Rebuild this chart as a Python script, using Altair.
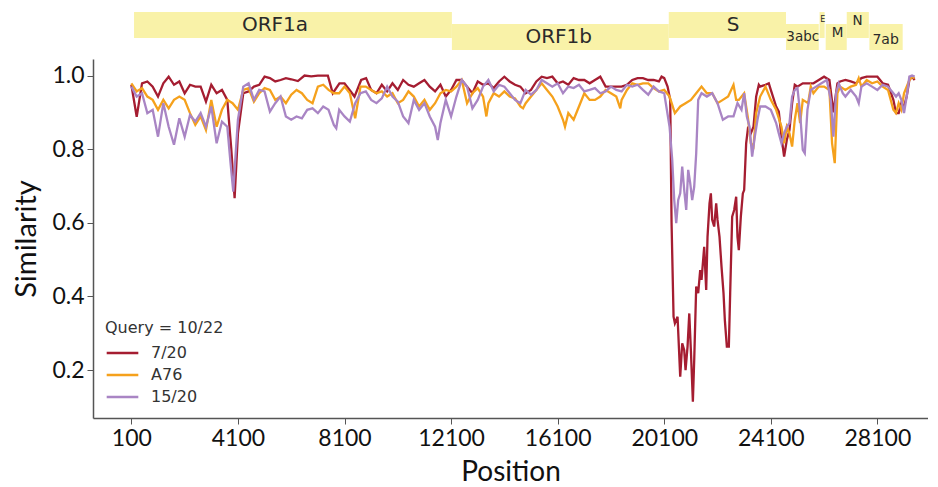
import altair as alt
import pandas as pd

# ---------------- data ----------------
series_names = ["7/20", "A76", "15/20"]
series_colors = ["#a51d31", "#f5a11c", "#a985c4"]

red_pos = [100, 300, 500, 700, 900, 1100, 1300, 1500, 1700, 1900, 2100, 2300, 2500, 2700, 2900, 3100, 3300, 3500, 3700, 3850, 3975, 4100, 4300, 4500, 4700, 4900, 5100, 5300, 5500, 5700, 5900, 6100, 6350, 6600, 6850, 7100, 7475, 7660, 7910, 8100, 8290, 8475, 8725, 8910, 9100, 9300, 9500, 9700, 9900, 10100, 10300, 10500, 10700, 10900, 11100, 11300, 11500, 11700, 11900, 12100, 12300, 12500, 12700, 12900, 13100, 13300, 13500, 13700, 13900, 14100, 14300, 14500, 14700, 14900, 15100, 15300, 15500, 15700, 15900, 16100, 16300, 16500, 16700, 16900, 17100, 17300, 17500, 17700, 17900, 18100, 18300, 18500, 18700, 18900, 19100, 19300, 19500, 19700, 19900, 20000, 20100, 20225, 20325, 20375, 20450, 20500, 20600, 20700, 20775, 20850, 20900, 20975, 21040, 21100, 21175, 21225, 21300, 21375, 21450, 21500, 21600, 21675, 21725, 21800, 21850, 21900, 21975, 22050, 22100, 22175, 22250, 22325, 22375, 22450, 22525, 22575, 22650, 22725, 22800, 22850, 22900, 22975, 23050, 23100, 23175, 23250, 23350, 23450, 23550, 23650, 23700, 23900, 24025, 24100, 24300, 24400, 24500, 24600, 24700, 24800, 24900, 25000, 25100, 25300, 25500, 25700, 25900, 26100, 26300, 26450, 26600, 26700, 26900, 27100, 27300, 27500, 27700, 27900, 28100, 28300, 28500, 28700, 28800, 28900, 29000, 29100, 29200, 29300, 29400, 29500]
red_sim = [0.975, 0.888, 0.979, 0.984, 0.970, 0.943, 0.979, 0.997, 0.975, 0.984, 0.952, 0.975, 0.970, 0.970, 0.929, 0.975, 0.952, 0.961, 0.934, 0.800, 0.667, 0.843, 0.952, 0.957, 0.970, 0.975, 0.997, 0.993, 0.984, 0.988, 0.993, 0.990, 0.985, 1.000, 0.998, 1.000, 1.000, 0.952, 0.979, 0.979, 0.961, 0.943, 0.988, 0.993, 0.961, 0.952, 0.975, 0.957, 0.979, 0.961, 0.988, 0.975, 0.970, 0.979, 0.988, 0.970, 0.957, 0.975, 0.943, 0.961, 0.988, 0.988, 0.970, 0.952, 0.984, 0.975, 0.979, 0.966, 0.984, 0.997, 0.984, 0.975, 0.970, 0.952, 0.961, 0.984, 0.997, 0.993, 0.997, 0.979, 0.984, 0.975, 0.993, 0.988, 0.988, 0.979, 0.988, 0.997, 0.970, 0.970, 0.970, 0.970, 0.975, 0.988, 0.993, 0.993, 0.988, 0.988, 0.984, 0.997, 0.993, 0.970, 0.934, 0.600, 0.345, 0.327, 0.345, 0.182, 0.273, 0.254, 0.200, 0.264, 0.354, 0.254, 0.114, 0.227, 0.427, 0.409, 0.472, 0.445, 0.535, 0.418, 0.562, 0.653, 0.680, 0.608, 0.590, 0.653, 0.608, 0.562, 0.481, 0.409, 0.336, 0.264, 0.264, 0.409, 0.617, 0.635, 0.671, 0.562, 0.526, 0.617, 0.680, 0.689, 0.816, 0.861, 0.843, 0.861, 0.943, 0.975, 0.970, 0.975, 0.979, 0.961, 0.916, 0.902, 0.834, 0.780, 0.825, 0.852, 0.925, 0.975, 0.970, 0.979, 0.979, 0.979, 0.988, 0.997, 0.988, 0.900, 0.979, 0.984, 0.988, 0.984, 0.979, 0.993, 0.997, 0.997, 0.997, 0.979, 0.975, 0.934, 0.898, 0.898, 0.925, 0.916, 0.943, 0.988, 0.997, 0.988]

orange_pos = [100, 300, 500, 700, 900, 1100, 1300, 1500, 1700, 1900, 2100, 2300, 2500, 2700, 2900, 3100, 3300, 3500, 3700, 3900, 4100, 4300, 4500, 4700, 4900, 5100, 5300, 5500, 5700, 5900, 6100, 6300, 6500, 6700, 6900, 7100, 7300, 7500, 7700, 7900, 8100, 8300, 8500, 8700, 8900, 9100, 9300, 9500, 9700, 9900, 10100, 10300, 10500, 10700, 10900, 11100, 11300, 11500, 11700, 11900, 12100, 12300, 12500, 12700, 12900, 13100, 13300, 13425, 13500, 13700, 13900, 14100, 14300, 14500, 14700, 14800, 14900, 15100, 15300, 15500, 15700, 15900, 16100, 16300, 16375, 16500, 16700, 16900, 17100, 17300, 17500, 17700, 17900, 18100, 18300, 18450, 18500, 18700, 18900, 19100, 19300, 19500, 19700, 19900, 20100, 20300, 20500, 20700, 20900, 21100, 21300, 21500, 21700, 21900, 22100, 22300, 22500, 22700, 22800, 22900, 23100, 23250, 23350, 23450, 23550, 23700, 23900, 24100, 24300, 24500, 24600, 24700, 24800, 24900, 25000, 25100, 25200, 25300, 25500, 25600, 25700, 25900, 26100, 26300, 26400, 26500, 26600, 26700, 26900, 27100, 27300, 27400, 27500, 27700, 27900, 28100, 28300, 28500, 28700, 28800, 28900, 29000, 29100, 29300, 29400, 29500]
orange_sim = [0.979, 0.957, 0.966, 0.943, 0.934, 0.907, 0.934, 0.911, 0.934, 0.943, 0.934, 0.898, 0.866, 0.889, 0.852, 0.934, 0.861, 0.907, 0.934, 0.925, 0.907, 0.961, 0.966, 0.929, 0.952, 0.966, 0.961, 0.934, 0.943, 0.925, 0.948, 0.961, 0.952, 0.934, 0.925, 0.970, 0.975, 0.961, 0.952, 0.952, 0.970, 0.952, 0.884, 0.970, 0.970, 0.961, 0.952, 0.957, 0.943, 0.952, 0.925, 0.934, 0.957, 0.943, 0.916, 0.934, 0.907, 0.925, 0.952, 0.961, 0.957, 0.970, 0.988, 0.925, 0.952, 0.966, 0.943, 0.889, 0.925, 0.952, 0.943, 0.957, 0.943, 0.938, 0.916, 0.911, 0.925, 0.943, 0.961, 0.979, 0.961, 0.943, 0.916, 0.880, 0.861, 0.898, 0.880, 0.916, 0.952, 0.934, 0.934, 0.943, 0.961, 0.952, 0.943, 0.911, 0.934, 0.961, 0.979, 0.975, 0.979, 0.979, 0.966, 0.957, 0.961, 0.943, 0.898, 0.916, 0.925, 0.934, 0.952, 0.970, 0.952, 0.952, 0.925, 0.934, 0.943, 0.975, 0.934, 0.934, 0.952, 0.880, 0.816, 0.807, 0.898, 0.943, 0.970, 0.934, 0.907, 0.861, 0.816, 0.861, 0.843, 0.807, 0.880, 0.925, 0.871, 0.934, 0.925, 0.970, 0.952, 0.970, 0.970, 0.961, 0.816, 0.762, 0.952, 0.970, 0.961, 0.970, 0.975, 0.993, 0.970, 0.988, 0.979, 0.984, 0.970, 0.961, 0.907, 0.898, 0.925, 0.907, 0.952, 0.988, 0.997, 0.993]

purple_pos = [100, 300, 500, 700, 900, 1100, 1300, 1500, 1700, 1900, 2100, 2300, 2500, 2700, 2900, 3100, 3300, 3500, 3700, 3825, 3925, 4025, 4100, 4300, 4500, 4700, 4900, 5100, 5300, 5500, 5700, 5900, 6100, 6300, 6500, 6700, 6900, 7100, 7300, 7500, 7700, 7790, 7900, 8100, 8300, 8500, 8700, 8900, 9100, 9300, 9500, 9700, 9900, 10100, 10300, 10500, 10700, 10900, 11100, 11300, 11500, 11600, 11700, 11900, 12100, 12300, 12500, 12700, 12900, 13100, 13300, 13500, 13700, 13900, 14100, 14300, 14500, 14700, 14900, 15100, 15300, 15500, 15700, 15900, 16100, 16300, 16500, 16700, 16900, 17100, 17300, 17500, 17700, 17900, 18100, 18300, 18500, 18700, 18900, 19100, 19300, 19500, 19700, 19900, 20100, 20300, 20400, 20475, 20550, 20625, 20700, 20775, 20850, 20925, 21000, 21075, 21150, 21225, 21300, 21375, 21500, 21700, 21900, 22100, 22300, 22500, 22700, 22850, 23000, 23100, 23200, 23300, 23400, 23500, 23600, 23700, 23900, 24100, 24300, 24400, 24500, 24600, 24700, 24800, 24900, 25000, 25100, 25200, 25300, 25375, 25475, 25600, 25800, 26000, 26200, 26350, 26450, 26550, 26650, 26800, 26900, 27000, 27100, 27300, 27400, 27500, 27700, 27900, 28100, 28300, 28500, 28600, 28700, 28800, 28900, 29000, 29100, 29200, 29300, 29400, 29500]
purple_sim = [0.970, 0.943, 0.952, 0.898, 0.907, 0.834, 0.925, 0.861, 0.812, 0.884, 0.834, 0.893, 0.875, 0.898, 0.861, 0.916, 0.816, 0.875, 0.861, 0.760, 0.685, 0.800, 0.880, 0.970, 0.979, 0.934, 0.961, 0.957, 0.902, 0.925, 0.943, 0.889, 0.880, 0.889, 0.884, 0.907, 0.911, 0.898, 0.916, 0.907, 0.866, 0.857, 0.907, 0.889, 0.875, 0.925, 0.952, 0.957, 0.934, 0.925, 0.938, 0.970, 0.943, 0.929, 0.889, 0.871, 0.934, 0.907, 0.925, 0.889, 0.861, 0.825, 0.871, 0.934, 0.889, 0.943, 0.988, 0.970, 0.911, 0.934, 0.970, 0.988, 0.957, 0.975, 0.970, 0.952, 0.934, 0.925, 0.961, 0.948, 0.961, 0.988, 0.979, 0.970, 0.979, 0.952, 0.970, 0.966, 0.975, 0.957, 0.961, 0.966, 0.952, 0.957, 0.970, 0.961, 0.957, 0.975, 0.970, 0.975, 0.961, 0.948, 0.970, 0.957, 0.952, 0.861, 0.771, 0.662, 0.599, 0.662, 0.680, 0.753, 0.689, 0.635, 0.744, 0.708, 0.662, 0.698, 0.789, 0.934, 0.952, 0.943, 0.952, 0.925, 0.880, 0.889, 0.889, 0.925, 0.907, 0.952, 0.889, 0.861, 0.780, 0.834, 0.880, 0.916, 0.916, 0.907, 0.871, 0.843, 0.816, 0.843, 0.861, 0.871, 0.943, 0.961, 0.966, 0.898, 0.798, 0.789, 0.907, 0.961, 0.970, 0.979, 0.988, 0.934, 0.834, 0.952, 0.979, 0.952, 0.943, 0.952, 0.961, 0.943, 0.925, 0.970, 0.979, 0.970, 0.961, 0.975, 0.970, 0.961, 0.952, 0.943, 0.952, 0.934, 0.898, 0.943, 0.997, 1.000, 0.997]

gene_names = ["ORF1a", "ORF1b", "S", "3abc", "E", "M", "N", "7ab"]
gene_start = [200, 12130, 20270, 24670, 25930, 26160, 26950, 27800]
gene_end = [12130, 20270, 24670, 25900, 26120, 26950, 27780, 29050]
gene_track = [0, 1, 0, 1, 0, 1, 0, 1]
gene_label_pos = [5490, 16140, 22680, 25300, 26050, 26610, 27360, 28410]

x_ticks = [100, 4100, 8100, 12100, 16100, 20100, 24100, 28100]
y_ticks = [0.2, 0.4, 0.6, 0.8, 1.0]

# ---------------- tables ----------------
rows = []
for name, pos, sim in [("7/20", red_pos, red_sim), ("A76", orange_pos, orange_sim), ("15/20", purple_pos, purple_sim)]:
    for p, s in zip(pos, sim):
        rows.append({"series": name, "position": p, "similarity": s})
df = pd.DataFrame(rows)

# label layout (styling only)
label_size = {"ORF1a": 20, "ORF1b": 20, "S": 20, "3abc": 13.5, "E": 8, "M": 13.5, "N": 13.5, "7ab": 14}
label_y = {"ORF1a": 13, "ORF1b": 25, "S": 13, "3abc": 24.5, "E": 8, "M": 21, "N": 9, "7ab": 28}
genes = pd.DataFrame({
    "gene": gene_names, "start": gene_start, "end": gene_end, "track": gene_track,
    "label_pos": gene_label_pos,
})
genes["y0"] = genes["track"] * 12
genes["y1"] = genes["track"] * 12 + 26
genes["ly"] = genes["gene"].map(label_y)
genes["fs"] = genes["gene"].map(label_size)

XDOM = [-1340, 30000]
W = 835

xs = alt.Scale(domain=XDOM, nice=False, zero=False)
gy = alt.Scale(domain=[0, 38], reverse=True, nice=False, zero=False)

boxes = alt.Chart(genes).mark_rect(color="#f9f2a8").encode(
    x=alt.X("start:Q", scale=xs, axis=None),
    x2="end:Q",
    y=alt.Y("y0:Q", scale=gy, axis=None),
    y2="y1:Q",
)
labels = alt.Chart(genes).mark_text(font="DejaVu Sans", color="#2a2a2a", baseline="middle").encode(
    x=alt.X("label_pos:Q", scale=xs, axis=None),
    y=alt.Y("ly:Q", scale=gy, axis=None),
    text="gene:N",
    size=alt.Size("fs:Q", scale=None, legend=None),
)
gene_panel = alt.layer(boxes, labels).properties(width=W, height=38)

color = alt.Color(
    "series:N",
    scale=alt.Scale(domain=series_names, range=series_colors),
    legend=alt.Legend(
        title="Query  = 10/22",
        orient="none", legendX=12, legendY=261,
        titleFont="DejaVu Sans", titleFontSize=16, titleFontWeight="normal", titleColor="#333",
        labelFont="DejaVu Sans", labelFontSize=16, labelColor="#333",
        symbolType="stroke", symbolSize=1000, symbolStrokeWidth=2.5,
        clipHeight=16, labelOffset=11, rowPadding=6, titlePadding=9,
    ),
)
base = alt.Chart(df).encode(
    x=alt.X("position:Q", scale=xs, title="Position",
            axis=alt.Axis(values=x_ticks, format="d", labelFont="Lato", labelFontSize=23,
                          labelColor="#111", titleFont="Lato", titleFontSize=28,
                          titleFontWeight="normal", titleColor="#111", titlePadding=8,
                          domainColor="#555", domainWidth=1.5, tickColor="#555",
                          tickSize=6, labelPadding=3, grid=False, labelFlush=False)),
    y=alt.Y("similarity:Q", scale=alt.Scale(domain=[0.07, 1.045], nice=False, zero=False),
            title="Similarity",
            axis=alt.Axis(values=y_ticks, format=".1f", labelFont="Lato", labelFontSize=23,
                          labelColor="#111", titleFont="Lato", titleFontSize=29,
                          titleFontWeight="normal", titleColor="#111", titlePadding=10,
                          domainColor="#555", domainWidth=1.5, tickColor="#555",
                          tickSize=6, labelPadding=3, grid=False)),
    color=color,
)
layers = [base.transform_filter(alt.datum.series == s).mark_line(strokeWidth=2.3)
          for s in series_names]
main = alt.layer(*layers).properties(width=W, height=359)

chart = alt.vconcat(gene_panel, main, spacing=9).resolve_legend(
    color="independent", size="independent"
).properties(
    padding={"left": 4, "top": 4, "right": 0, "bottom": 0}
).configure_view(stroke=None)

chart.save("out.html", embed_options={"renderer": "svg", "actions": False})
